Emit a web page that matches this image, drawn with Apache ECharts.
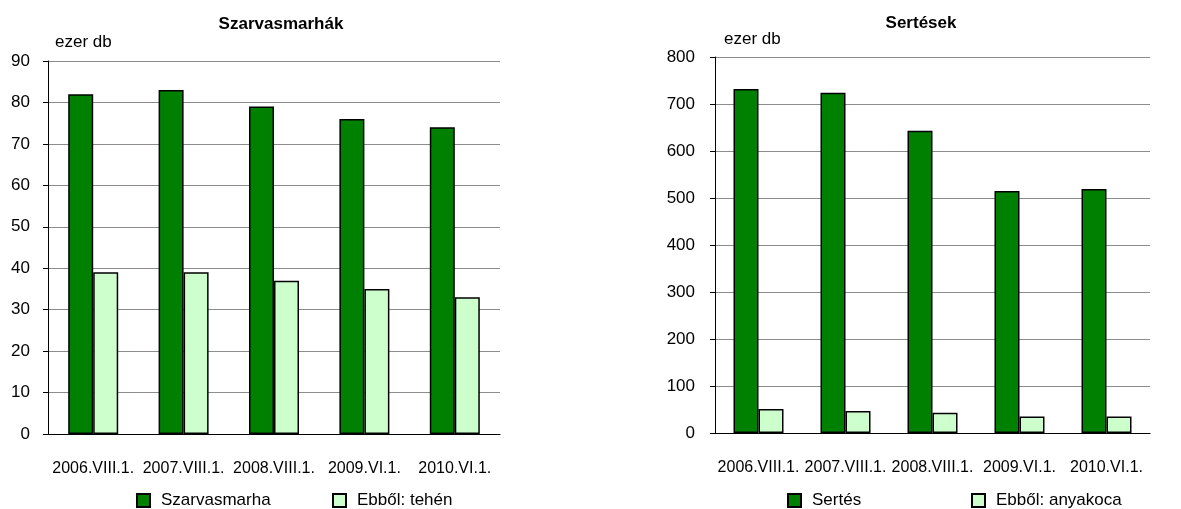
<!DOCTYPE html>
<html>
<head>
<meta charset="utf-8">
<script src="https://cdn.jsdelivr.net/npm/echarts@6.0.0/dist/echarts.min.js"></script>
<style>
html, body { margin: 0; padding: 0; background: #fff; }
#chart { width: 1181px; height: 509px; }
</style>
</head>
<body>
<div id="chart"></div>
<script>
// adatok
var categories = ['2006.VIII.1.', '2007.VIII.1.', '2008.VIII.1.', '2009.VI.1.', '2010.VI.1.'];
var szarvasmarha = [82, 83, 79, 76, 74];
var tehen = [39, 39, 37, 35, 33];
var sertes = [732, 724, 643, 515, 519];
var anyakoca = [51, 47, 43, 35, 35];

var FONT = '"Liberation Sans", Arial, sans-serif';
var DARK = '#008000';
var LIGHT = '#ccffcc';

function xAxis(idx) {
	return {
		type : 'category',
		gridIndex : idx,
		data : categories,
		axisLine : { lineStyle : { color : '#000', width : 1 } },
		axisTick : { interval : 0, length : 6, lineStyle : { color : '#000' } },
		axisLabel : { interval : 0, color : '#000', fontSize : 16, fontFamily : FONT, margin : 27 }
	};
}

function yAxis(idx, max, interval, margin) {
	return {
		type : 'value',
		gridIndex : idx,
		min : 0,
		max : max,
		interval : interval,
		axisLine : { show : true, lineStyle : { color : '#000', width : 1 } },
		axisTick : { show : true, length : 5, lineStyle : { color : '#000' } },
		axisLabel : { color : '#000', fontSize : 17, fontFamily : FONT, margin : margin },
		splitLine : { lineStyle : { color : '#8c8c8c', width : 1 } }
	};
}

function bar(name, data, color, idx) {
	return {
		name : name,
		type : 'bar',
		xAxisIndex : idx,
		yAxisIndex : idx,
		data : data,
		barWidth : 25,
		barGap : '0%',
		itemStyle : { color : color, borderColor : '#000', borderWidth : 1.5 }
	};
}

function legend(name, x) {
	return {
		data : [name],
		left : x,
		top : 492,
		padding : 0,
		icon : 'rect',
		itemWidth : 13,
		itemHeight : 13,
		textStyle : { color : '#000', fontSize : 17, fontFamily : FONT, padding : [0, 0, 0, 6] }
	};
}

var titleStyle = { color : '#000', fontSize : 17, fontWeight : 'bold', fontFamily : FONT };
var unitStyle = { color : '#000', fontSize : 17, fontWeight : 'normal', fontFamily : FONT };

var option = {
	animation : false,
	backgroundColor : '#fff',
	title : [
		{ text : 'Szarvasmarhák', left : 281, top : 16, padding : 0, textAlign : 'center', textStyle : titleStyle },
		{ text : 'Sertések', left : 921, top : 15, padding : 0, textAlign : 'center', textStyle : titleStyle },
		{ text : 'ezer db', left : 55, top : 34, padding : 0, textStyle : unitStyle },
		{ text : 'ezer db', left : 724, top : 31, padding : 0, textStyle : unitStyle }
	],
	legend : [
		legend('Szarvasmarha', 136),
		legend('Ebből: tehén', 332),
		legend('Sertés', 787),
		legend('Ebből: anyakoca', 971)
	],
	grid : [
		{ left : 48, right : 681, top : 61, bottom : 75 },
		{ left : 715, right : 31, top : 57, bottom : 76 }
	],
	xAxis : [ xAxis(0), xAxis(1) ],
	yAxis : [ yAxis(0, 90, 10, 18), yAxis(1, 800, 100, 20) ],
	series : [
		bar('Szarvasmarha', szarvasmarha, DARK, 0),
		bar('Ebből: tehén', tehen, LIGHT, 0),
		bar('Sertés', sertes, DARK, 1),
		bar('Ebből: anyakoca', anyakoca, LIGHT, 1)
	]
};

var myChart = echarts.init(document.getElementById('chart'));
myChart.setOption(option);
</script>
</body>
</html>
